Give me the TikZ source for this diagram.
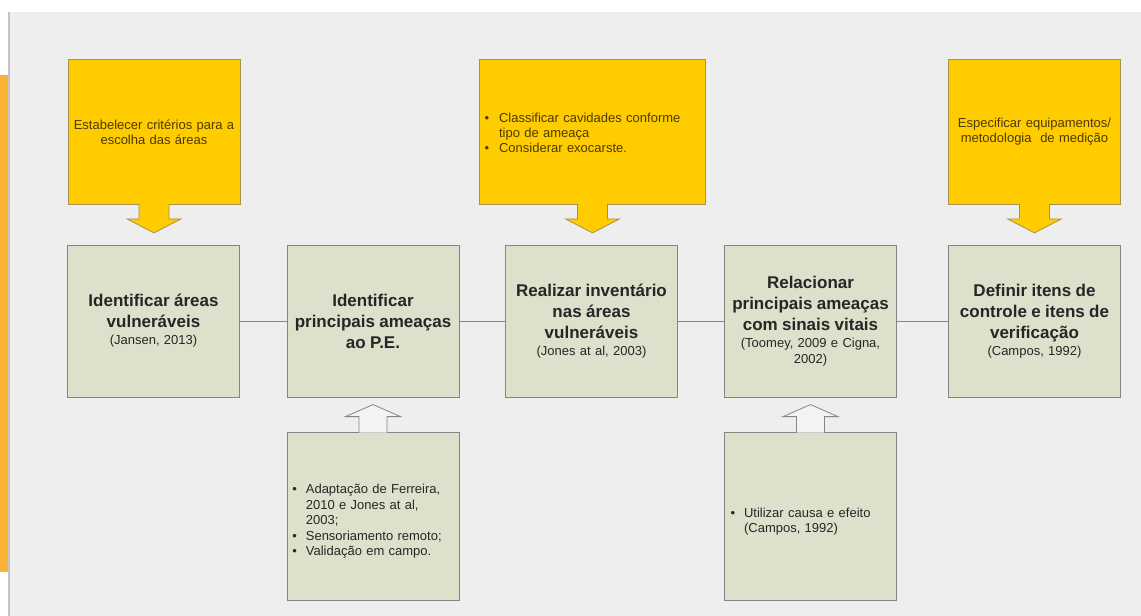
\documentclass[tikz,border=0pt]{standalone}
\usepackage{fontspec}
\setmainfont{Liberation Sans}
\usetikzlibrary{calc}

\definecolor{panelgray}{HTML}{EEEEEE}
\definecolor{edgegray}{HTML}{C4C4C4}
\definecolor{stripe}{HTML}{F9B233}
\definecolor{boxyellow}{HTML}{FFCC00}
\definecolor{yellowline}{HTML}{A8914A}
\definecolor{yellowtext}{HTML}{4D3A00}
\definecolor{boxgreen}{HTML}{DEE0CC}
\definecolor{boxline}{HTML}{858585}
\definecolor{darktext}{HTML}{262626}
\definecolor{arrowfill}{HTML}{F3F3F1}

\tikzset{
  mainbox/.style={draw=boxline,fill=boxgreen,line width=0.8pt,minimum width=172pt,minimum height=152pt,
    text width=166pt,align=center,inner sep=0pt,text=darktext,font=\fontsize{13}{15.5}\selectfont},
  notebox/.style={draw=boxline,fill=boxgreen,line width=0.8pt,minimum width=172pt,minimum height=168pt,
    text width=166pt,align=center,inner sep=0pt,text=darktext,font=\fontsize{13}{15.5}\selectfont},
  topbox/.style={draw=yellowline,fill=boxyellow,line width=0.8pt,minimum height=145pt,
    align=center,inner sep=0pt,text=yellowtext,font=\fontsize{13}{15}\selectfont},
  link/.style={draw=boxline,line width=0.8pt},
  downarrow/.style={draw=yellowline,fill=boxyellow,line width=0.8pt,line join=miter},
  uparrow/.style={draw=boxline,fill=arrowfill,line width=0.8pt,line join=miter}
}

\newcommand{\boxtitle}[1]{{\bfseries\fontsize{17}{21}\selectfont #1\\[1.5pt]}}

\begin{document}
\begin{tikzpicture}[x=1pt,y=-1pt]
\useasboundingbox (0,0) rectangle (1141,616);

\fill[white] (0,0) rectangle (1141,616);
\fill[panelgray] (8,12) rectangle (1141,616);
\draw[edgegray,line width=1.5pt] (8.75,12) -- (8.75,616);
\fill[stripe] (0,75) rectangle (8,572);

\node [topbox,minimum width=172pt,text width=166pt] (t1) at (154,132)
  {Estabelecer critérios para a\\ escolha das áreas};
\node [topbox,minimum width=226pt,text width=220pt] (t3) at (592.5,132)
  {\hspace*{-20pt}\begin{tabular}{@{}l@{\hspace{10pt}}l@{}}
   \textbullet\rule{0pt}{15pt} & Classificar cavidades conforme\\
               & tipo de ameaça\\
   \textbullet & Considerar exocarste.
   \end{tabular}};
\node [topbox,minimum width=172pt,text width=166pt] (t5) at (1034.5,132)
  {Especificar equipamentos/\\ metodologia\ \ de medição};

\draw[downarrow] ($(t1.south)+(-15,-1)$) -- ++(0,15) -- ++(-12,0) -- ++(27,14) -- ++(27,-14) -- ++(-12,0) -- ++(0,-15);
\draw[downarrow] ($(t3.south)+(-15,-1)$) -- ++(0,15) -- ++(-12,0) -- ++(27,14) -- ++(27,-14) -- ++(-12,0) -- ++(0,-15);
\draw[downarrow] ($(t5.south)+(-15,-1)$) -- ++(0,15) -- ++(-12,0) -- ++(27,14) -- ++(27,-14) -- ++(-12,0) -- ++(0,-15);

\node [mainbox] (b1) at (153.5,321) {\boxtitle{Identificar áreas\\ vulneráveis}(Jansen, 2013)};
\node [mainbox] (b2) at (373,321) {\boxtitle{Identificar\\ principais ameaças\\ ao P.E.}};
\node [mainbox] (b3) at (591.5,321) {\boxtitle{Realizar inventário\\ nas áreas\\ vulneráveis}(Jones at al, 2003)};
\node [mainbox] (b4) at (810.5,321) {\boxtitle{Relacionar\\ principais ameaças\\ com sinais vitais}(Toomey, 2009 e Cigna,\\ 2002)};
\node [mainbox] (b5) at (1034.5,321) {\boxtitle{Definir itens de\\ controle e itens de\\ verificação}(Campos, 1992)};

\draw[link] (b1) -- (b2);
\draw[link] (b2) -- (b3);
\draw[link] (b3) -- (b4);
\draw[link] (b4) -- (b5);

\node [notebox] (n2) at (373,516)
  {\hspace*{-12pt}\begin{tabular}{@{}l@{\hspace{9pt}}l@{}}
   \textbullet\rule{0pt}{22pt} & Adaptação de Ferreira,\\
               & 2010 e Jones at al,\\
               & 2003;\\
   \textbullet & Sensoriamento remoto;\\
   \textbullet & Validação em campo.
   \end{tabular}};
\node [notebox] (n4) at (810.5,516)
  {\hspace*{-20pt}\begin{tabular}{@{}l@{\hspace{9pt}}l@{}}
   \textbullet\rule{0pt}{23pt} & Utilizar causa e efeito\\
               & (Campos, 1992)
   \end{tabular}};

\draw[uparrow] ($(n2.north)+(-14,1)$) -- ++(0,-16) -- ++(-13.5,0) -- ++(27.5,-12) -- ++(27.5,12) -- ++(-13.5,0) -- ++(0,16);
\draw[uparrow] ($(n4.north)+(-14,1)$) -- ++(0,-16) -- ++(-13.5,0) -- ++(27.5,-12) -- ++(27.5,12) -- ++(-13.5,0) -- ++(0,16);

\end{tikzpicture}
\end{document}
